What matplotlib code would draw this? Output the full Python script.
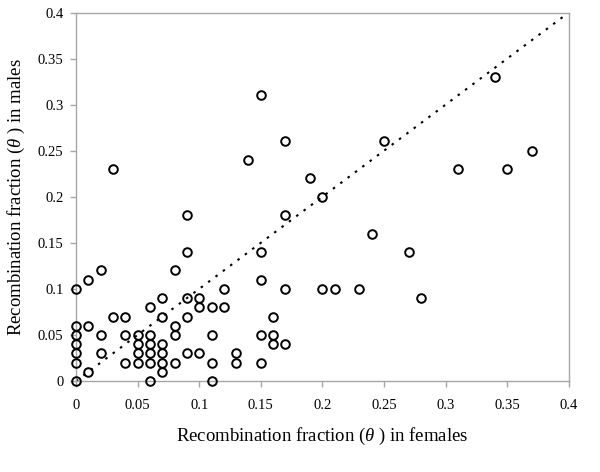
import matplotlib
matplotlib.use("Agg")
import matplotlib.pyplot as plt

plt.rcParams['font.family'] = ['Liberation Serif', 'DejaVu Serif']
plt.rcParams['mathtext.fontset'] = 'custom'
plt.rcParams['mathtext.it'] = 'Liberation Serif:italic'
plt.rcParams['mathtext.rm'] = 'Liberation Serif'

females = [0, 0, 0, 0, 0, 0, 0,
           0.01, 0.01, 0.01,
           0.02, 0.02, 0.02,
           0.03, 0.03,
           0.04, 0.04, 0.04,
           0.05, 0.05, 0.05, 0.05,
           0.06, 0.06, 0.06, 0.06, 0.06, 0.06,
           0.07, 0.07, 0.07, 0.07, 0.07, 0.07,
           0.08, 0.08, 0.08, 0.08,
           0.09, 0.09, 0.09, 0.09, 0.09,
           0.10, 0.10, 0.10,
           0.11, 0.11, 0.11, 0.11,
           0.12, 0.12,
           0.13, 0.13,
           0.14,
           0.15, 0.15, 0.15, 0.15, 0.15,
           0.16, 0.16, 0.16,
           0.17, 0.17, 0.17, 0.17,
           0.19,
           0.20, 0.20,
           0.21, 0.23, 0.24, 0.25, 0.27, 0.28, 0.31, 0.34, 0.35, 0.37]
males = [0, 0.02, 0.03, 0.04, 0.05, 0.06, 0.10,
         0.01, 0.06, 0.11,
         0.03, 0.05, 0.12,
         0.07, 0.23,
         0.02, 0.05, 0.07,
         0.02, 0.03, 0.04, 0.05,
         0, 0.02, 0.03, 0.04, 0.05, 0.08,
         0.01, 0.02, 0.03, 0.04, 0.07, 0.09,
         0.02, 0.05, 0.06, 0.12,
         0.03, 0.07, 0.09, 0.14, 0.18,
         0.03, 0.08, 0.09,
         0, 0.02, 0.05, 0.08,
         0.08, 0.10,
         0.02, 0.03,
         0.24,
         0.02, 0.05, 0.11, 0.14, 0.31,
         0.04, 0.05, 0.07,
         0.04, 0.10, 0.18, 0.26,
         0.22,
         0.10, 0.20,
         0.10, 0.10, 0.16, 0.26, 0.14, 0.09, 0.23, 0.33, 0.23, 0.25]

axis_ticks = [0, 0.05, 0.1, 0.15, 0.2, 0.25, 0.3, 0.35, 0.4]
tick_labels = ['0', '0.05', '0.1', '0.15', '0.2', '0.25', '0.3', '0.35', '0.4']
diag = [0, 0.4]

fig = plt.figure(figsize=(6, 4.72), dpi=100)
ax = fig.add_axes([0.1267, 0.1928, 0.8213, 0.7807])

ax.plot(diag, diag, color='black', linestyle=(0, (1.2, 3.2)), linewidth=1.5, zorder=2)
ax.plot(females, males, linestyle='none', marker='o', markersize=6.2,
        markerfacecolor='none', markeredgecolor='black', markeredgewidth=1.4,
        clip_on=False, zorder=3)

ax.set_xlim(0, 0.4)
ax.set_ylim(0, 0.4)
ax.set_xticks(axis_ticks)
ax.set_xticklabels(tick_labels)
ax.set_yticks(axis_ticks)
ax.set_yticklabels(tick_labels)

for s in ax.spines.values():
    s.set_color('#a6a6a6')
    s.set_linewidth(1.0)
ax.tick_params(axis='both', direction='out', length=4, width=1.0, color='#a6a6a6',
               labelsize=10.5, labelcolor='black', pad=5)
ax.tick_params(axis='x', pad=9)

ax.set_xlabel(r'Recombination fraction ($\theta$ ) in females', fontsize=13.5, labelpad=10)
ax.set_ylabel(r'Recombination fraction ($\theta$ ) in males', fontsize=13.5, labelpad=8)

fig.savefig('out.png', dpi=100)
